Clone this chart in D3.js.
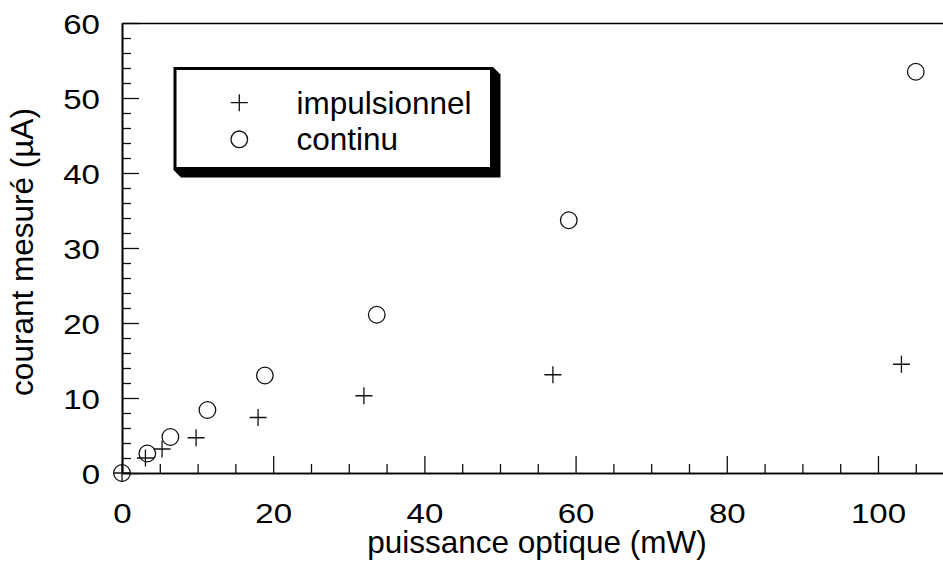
<!DOCTYPE html>
<html>
<head>
<meta charset="utf-8">
<script src="https://cdn.jsdelivr.net/npm/d3@7"></script>
<style>
  html, body { margin: 0; padding: 0; background: #fff; }
  svg { display: block; }
  text { font-family: "Liberation Sans", Arial, Helvetica, sans-serif; fill: #000; }
</style>
</head>
<body>
<svg id="chart" width="943" height="563"></svg>
<script>
// ---- data ----
const seriesNames = ["impulsionnel", "continu"];
const impulsionnelX = [0, 3.1, 5.3, 9.8, 18.0, 32.0, 57.0, 103.1];
const impulsionnelY = [0, 2.0, 3.2, 4.7, 7.4, 10.3, 13.1, 14.5];
const continuX = [0, 3.35, 6.4, 11.3, 18.9, 33.7, 59.1, 105.0];
const continuY = [0, 2.6, 4.8, 8.4, 13.0, 21.1, 33.7, 53.5];
const xMajorTicks = [0, 20, 40, 60, 80, 100];
const xMinorTicks = [5, 10, 15, 25, 30, 35, 45, 50, 55, 65, 70, 75, 85, 90, 95, 105];
const yMajorTicks = [0, 10, 20, 30, 40, 50, 60];
const yMinorTicks = [2, 4, 6, 8, 12, 14, 16, 18, 22, 24, 26, 28, 32, 34, 36, 38, 42, 44, 46, 48, 52, 54, 56, 58];
const xTitle = "puissance optique (mW)";
const yTitle = "courant mesuré (µA)";

(function () {
// ---- layout ----
const svg = d3.select("#chart");
const pLeft = 122, pRight = 943, pTop = 23, pBottom = 473;
const x = d3.scaleLinear().domain([0, 108.6]).range([pLeft, pRight]);
const y = d3.scaleLinear().domain([0, 60]).range([pBottom, pTop]);

const TICK_SCALE = 1.18;

// bottom axis (ticks pointing inward)
svg.append("g").attr("transform", `translate(0,${pBottom})`)
  .call(d3.axisBottom(x).tickValues(xMinorTicks).tickSizeInner(-9).tickSizeOuter(0).tickFormat(""));
const gx = svg.append("g").attr("transform", `translate(0,${pBottom})`)
  .call(d3.axisBottom(x).tickValues(xMajorTicks).tickSizeInner(-17).tickSizeOuter(0).tickPadding(30).tickFormat(d3.format("d")));
gx.selectAll("text").attr("font-size", 28).attr("font-family", "Liberation Sans, Arial, sans-serif")
  .attr("transform", `scale(${TICK_SCALE},1)`);

// left axis (ticks pointing inward)
svg.append("g").attr("transform", `translate(${pLeft},0)`)
  .call(d3.axisLeft(y).tickValues(yMinorTicks).tickSizeInner(-9).tickSizeOuter(0).tickFormat(""));
const gy = svg.append("g").attr("transform", `translate(${pLeft},0)`)
  .call(d3.axisLeft(y).tickValues(yMajorTicks).tickSizeInner(-17).tickSizeOuter(0).tickPadding(22 / TICK_SCALE).tickFormat(d3.format("d")));
gy.selectAll("text").attr("font-size", 28).attr("font-family", "Liberation Sans, Arial, sans-serif")
  .attr("dy", "0.38em")
  .attr("transform", `scale(${TICK_SCALE},1)`);

// top frame line
svg.append("g").attr("transform", `translate(0,${pTop})`)
  .call(d3.axisTop(x).tickValues([]).tickSizeOuter(0));

svg.selectAll(".domain").attr("stroke", "#000").attr("stroke-width", 1.6);
svg.selectAll(".tick line").attr("stroke", "#111").attr("stroke-width", 1.3);

// axis titles
svg.append("text").attr("x", 537).attr("y", 553).attr("text-anchor", "middle")
  .attr("font-size", 31.5).text(xTitle);
svg.append("text").attr("transform", "translate(33,252) rotate(-90)").attr("text-anchor", "middle")
  .attr("font-size", 31.5).text(yTitle);

// data marks
const arm = 8.5, rad = 8.3;
const impData = impulsionnelX.map((v, i) => ({ x: v, y: impulsionnelY[i] }));
const conData = continuX.map((v, i) => ({ x: v, y: continuY[i] }));

svg.append("g").selectAll("circle").data(conData).join("circle")
  .attr("cx", d => x(d.x)).attr("cy", d => y(d.y)).attr("r", rad)
  .attr("fill", "none").attr("stroke", "#111").attr("stroke-width", 1.3);

svg.append("g").selectAll("path").data(impData).join("path")
  .attr("d", d => {
    const cx = x(d.x), cy = y(d.y);
    return `M${cx - arm},${cy}H${cx + arm}M${cx},${cy - arm}V${cy + arm}`;
  })
  .attr("fill", "none").attr("stroke", "#111").attr("stroke-width", 1.3);

// legend
const lg = svg.append("g");
const lx0 = 173.5, ly0 = 67, lx1 = 493, ly1 = 170, sh = 7.5;
lg.append("polygon")
  .attr("points", [[lx1, ly0], [lx1 + sh, ly0 + sh], [lx1 + sh, ly1 + sh], [lx0 + sh, ly1 + sh], [lx0, ly1]].map(p => p.join(",")).join(" "))
  .attr("fill", "#000");
lg.append("rect").attr("x", lx0 + 1.5).attr("y", ly0 + 1.5)
  .attr("width", lx1 - lx0 - 3).attr("height", ly1 - ly0 - 3)
  .attr("fill", "#fff").attr("stroke", "#000").attr("stroke-width", 3);

const legendRows = [{ name: seriesNames[0], cy: 102.7, type: "cross" }, { name: seriesNames[1], cy: 139.3, type: "circle" }];
legendRows.forEach(r => {
  const cx = 239.3;
  if (r.type === "cross") {
    lg.append("path").attr("d", `M${cx - arm},${r.cy}H${cx + arm}M${cx},${r.cy - arm}V${r.cy + arm}`)
      .attr("stroke", "#111").attr("stroke-width", 1.3).attr("fill", "none");
  } else {
    lg.append("circle").attr("cx", cx).attr("cy", r.cy).attr("r", rad)
      .attr("stroke", "#111").attr("stroke-width", 1.3).attr("fill", "none");
  }
  lg.append("text").attr("x", 296.5).attr("y", r.cy + 11).attr("font-size", 31.5).text(r.name);
});
})();
</script>
</body>
</html>
